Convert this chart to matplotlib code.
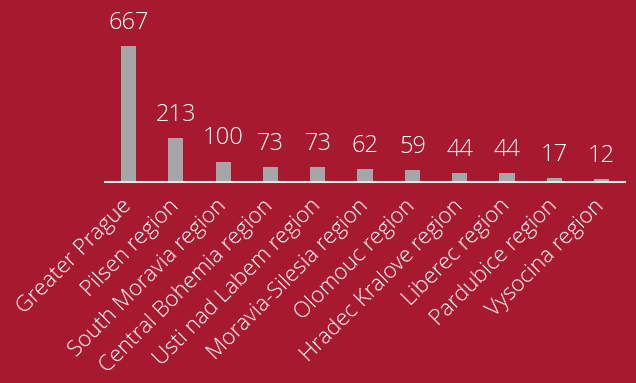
import matplotlib
matplotlib.use("Agg")
import matplotlib.pyplot as plt

regions = ["Greater Prague", "Pilsen region", "South Moravia region",
           "Central Bohemia region", "Usti nad Labem region",
           "Moravia-Silesia region", "Olomouc region", "Hradec Kralove region",
           "Liberec region", "Pardubice region", "Vysocina region"]
counts = [667, 213, 100, 73, 73, 62, 59, 44, 44, 17, 12]

bg = "#a6192e"
plt.rcParams['font.family'] = ['Open Sans', 'DejaVu Sans']

fig = plt.figure(figsize=(6.36, 3.83), dpi=100, facecolor=bg)
ax = fig.add_axes([0.165, 0.525, 0.818, 0.475])
ax.set_facecolor(bg)

x = range(len(counts))
ax.bar(x, counts, width=0.32, color='#a6a6a6')
for i, v in zip(x, counts):
    ax.text(i, v + 55, str(v), ha='center', va='bottom', color='white',
            fontsize=17, fontweight='light')

ax.set_xlim(-0.5, len(counts) - 0.5)
ax.set_ylim(0, 892)
ax.set_xticks(list(x))
ax.set_xticklabels(regions, rotation=45, ha='right', va='center',
                   rotation_mode='anchor', color='white', fontsize=16,
                   fontweight='light')
ax.tick_params(axis='x', length=0, pad=15)
ax.set_yticks([])
for s in ['top', 'right', 'left']:
    ax.spines[s].set_visible(False)
ax.spines['bottom'].set_color('#e6e6e6')
ax.spines['bottom'].set_linewidth(1.5)

fig.savefig("out.png", dpi=100, facecolor=bg)
